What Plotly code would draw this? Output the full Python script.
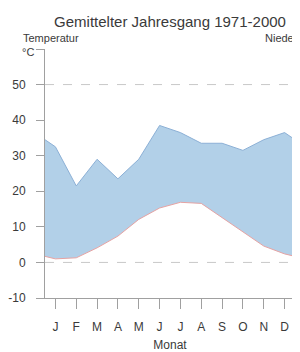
import plotly.graph_objects as go

# ---- data ----
monate = ["J", "F", "M", "A", "M", "J", "J", "A", "S", "O", "N", "D"]
temperatur_c = [1.0, 1.3, 4.1, 7.4, 12.1, 15.3, 16.9, 16.6, 12.6, 8.5, 4.6, 2.4]
niederschlag_mm = [65, 43, 58, 47, 58, 77, 73, 67, 67, 63, 69, 73]
temp_ticks = [-10, 0, 10, 20, 30, 40, 50, 60]
temp_ticktext = ["-10", "0", "10", "20", "30", "40", "50", ""]
prec_ticks = [-20, 0, 20, 40, 60, 80, 100, 120]
prec_ticktext = ["-20", "0", "20", "40", "60", "80", "100", ""]
gridlines = [0, 50]
mm_per_degree = 2  # Walter-Lieth scaling

# circular year: close the curves at the plot edges (mean of Dec and Jan)
n = len(monate)
xs = [0.5] + list(range(1, n + 1)) + [n + 0.5]
t_edge = (temperatur_c[0] + temperatur_c[-1]) / 2
p_edge = (niederschlag_mm[0] + niederschlag_mm[-1]) / 2
t_vals = [t_edge] + temperatur_c + [t_edge]
p_vals = [v / mm_per_degree for v in [p_edge] + niederschlag_mm + [p_edge]]

FONT = "Liberation Sans, Arial, Helvetica, sans-serif"
TXT = "#3a3a3a"
AX = "#a0a0a0"

# page body has an 8px margin -> figure is placed at (8, 8)
W, H = 292, 344
L, T = 37, 41
PW = 250  # plot width
PH = 249  # plot height

fig = go.Figure()
fig.add_trace(go.Scatter(x=xs, y=t_vals, mode="lines",
                         line=dict(color="#e6a3a3", width=1),
                         hoverinfo="skip", showlegend=False))
fig.add_trace(go.Scatter(x=xs, y=p_vals, mode="lines",
                         line=dict(color="#8cb0d6", width=1),
                         fill="tonexty", fillcolor="#b2d0e8",
                         hoverinfo="skip", showlegend=False))
# invisible helper for the precipitation axis
fig.add_trace(go.Scatter(x=xs, y=[v * mm_per_degree for v in p_vals], yaxis="y2",
                         mode="lines", line=dict(width=0), opacity=0,
                         hoverinfo="skip", showlegend=False))

for g in gridlines:
    fig.add_shape(type="line", xref="paper", x0=0, x1=1, yref="y", y0=g, y1=g,
                  line=dict(color="#c8c8c8", width=1, dash="dash"), layer="below")

fig.update_layout(
    template="none",
    width=W, height=H,
    margin=dict(l=L, r=W - L - PW, t=T, b=H - T - PH),
    paper_bgcolor="white", plot_bgcolor="white",
    font=dict(family=FONT, color=TXT, size=11),
    title=dict(text="Gemittelter Jahresgang 1971-2000", x=(170 - 8) / W, xanchor="center",
               y=1 - (22 - 8) / H, yanchor="middle", xref="container", yref="container",
               font=dict(size=15, color=TXT, family=FONT)),
    xaxis=dict(range=[0.5, n + 0.5], tickmode="array",
               tickvals=list(range(1, n + 1)), ticktext=monate,
               showgrid=False, zeroline=False, showline=True, linecolor=AX, linewidth=1,
               ticks="outside", ticklen=10, tickcolor=AX, ticklabelstandoff=8,
               tickfont=dict(size=12, color=TXT),
               title=dict(text="Monat", font=dict(size=12, color=TXT), standoff=9),
               automargin=False, fixedrange=True),
    yaxis=dict(range=[-10, 60], tickmode="array", tickvals=temp_ticks, ticktext=temp_ticktext,
               showgrid=False, zeroline=False, showline=True, linecolor=AX, linewidth=1,
               ticks="outside", ticklen=8, tickcolor=AX, ticklabelstandoff=8,
               tickfont=dict(size=12, color=TXT), automargin=False, fixedrange=True),
    yaxis2=dict(range=[-20, 120], overlaying="y", side="right", tickmode="array",
                tickvals=prec_ticks, ticktext=prec_ticktext, showgrid=False, zeroline=False,
                showline=True, linecolor=AX, linewidth=1, ticks="outside", ticklen=8,
                tickcolor=AX, ticklabelstandoff=8,
                tickfont=dict(size=12, color=TXT), automargin=False, fixedrange=True),
    annotations=[
        dict(text="Temperatur", xref="paper", yref="paper", x=-24 / PW, y=1 + 11 / PH,
             xanchor="left", yanchor="middle", showarrow=False, font=dict(size=11, color=TXT)),
        dict(text="°C", xref="paper", yref="paper", x=-9 / PW, y=1 - 3 / PH,
             xanchor="right", yanchor="middle", showarrow=False, font=dict(size=11, color=TXT)),
        dict(text="Niederschlag", xref="paper", yref="paper", x=218 / PW, y=1 + 11 / PH,
             xanchor="left", yanchor="middle", showarrow=False, font=dict(size=11, color=TXT)),
    ],
)

fig.write_html("out.html")
